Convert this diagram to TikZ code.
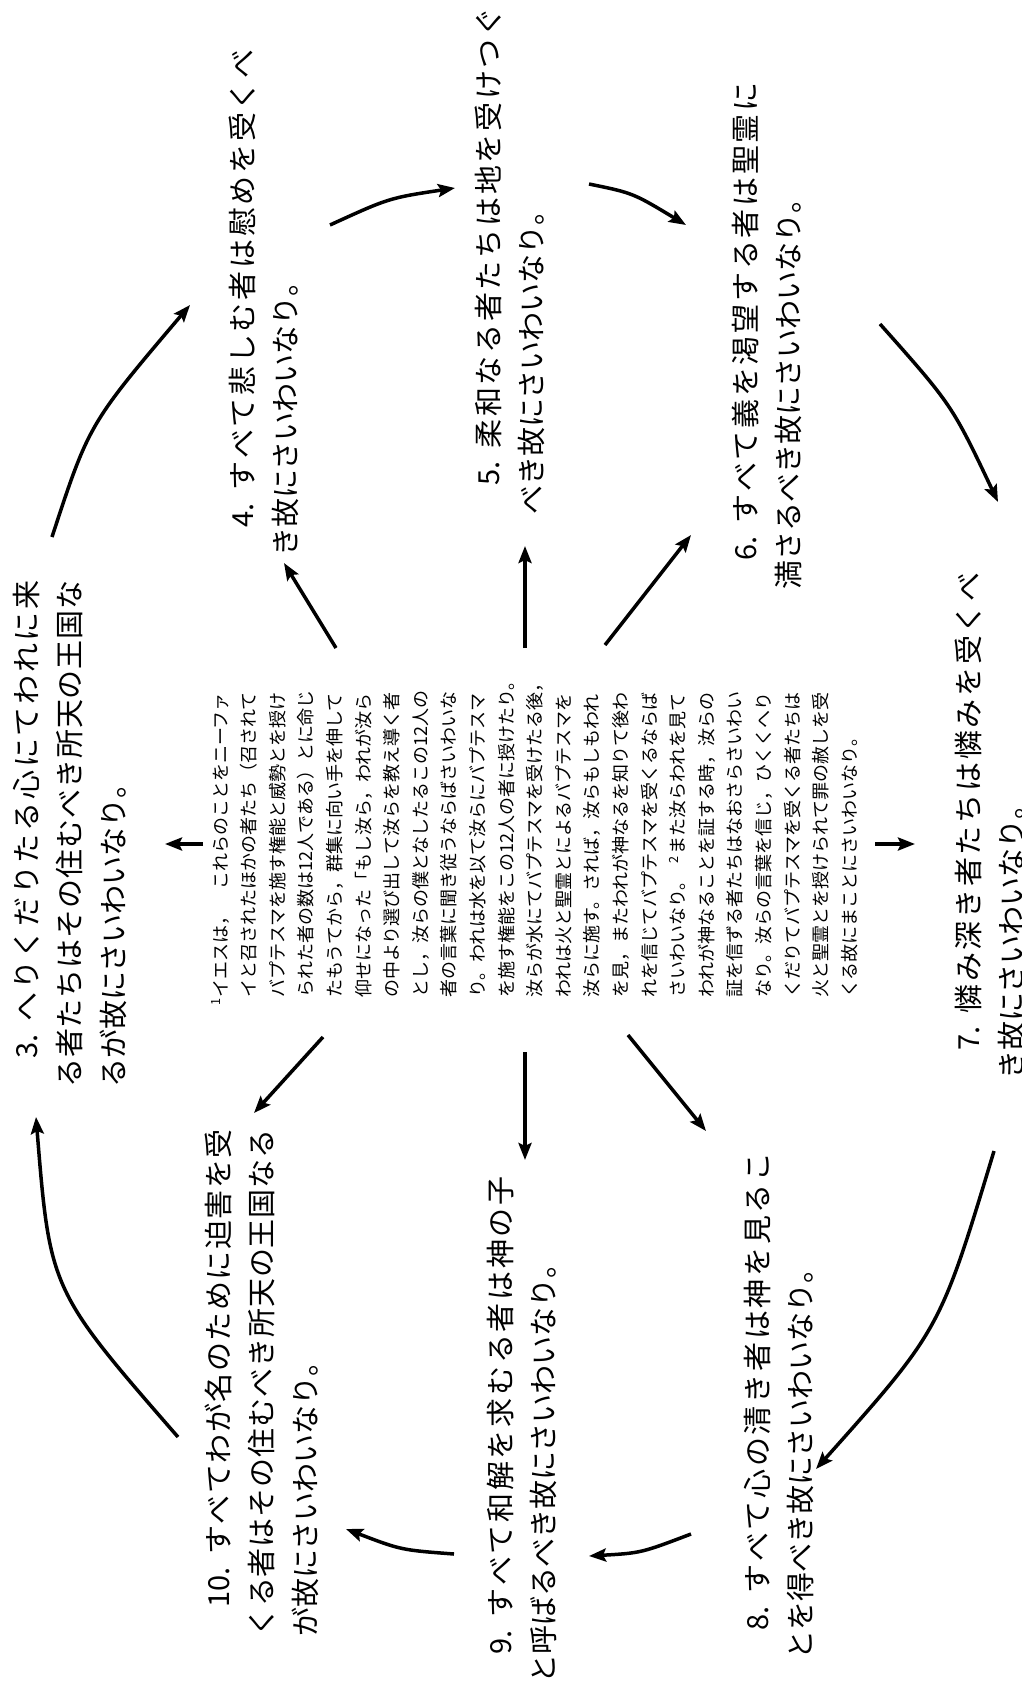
\documentclass[tikz,border=0pt]{standalone}
\usepackage{fontspec}
\setmainfont{Noto Sans CJK JP}
\usetikzlibrary{arrows.meta}
\def\JE{}
\def\JS#1{#1\JSnext}
\def\JSnext#1{\ifx#1\JE\else\hfil#1\expandafter\JSnext\fi}
\newcommand\Lone[2]{\makebox[17.5em][s]{\rule{0pt}{0.88em}\hspace*{1em}#1\hspace*{0.45em}\JS #2\JE}}
\newcommand\Lfull[1]{\makebox[17.5em][s]{\JS #1\JE}}
\tikzset{
  arr/.style={line width=3.5pt, -{Stealth[length=17pt,width=13pt,inset=3pt]}},
  item/.style={rotate=90, inner sep=0pt, align=left, anchor=north west, font=\fontsize{29}{43.5}\selectfont},
  body/.style={rotate=90, inner sep=0pt, align=left, anchor=north west, font=\fontsize{18}{28.6}\selectfont},
}
\begin{document}
\begin{tikzpicture}[x=1pt,y=1pt]
\useasboundingbox (0,0) rectangle (1021,-1694);
\fill[white] (0,0) rectangle (1021,-1694);

% central text
\node[body] (ctr) at (211,-998) {\rule{0pt}{0.88em}\llap{\textsuperscript{1}}イエスは，　これらのことをニーファ\\
イと召されたほかの者たち（召されて\\
バプテスマを施す権能と威勢とを授け\\
られた者の数は12人である）とに命じ\\
たもうてから，群集に向い手を伸して\\
仰せになった「もし汝ら，われが汝ら\\
の中より選び出して汝らを教え導く者\\
とし，汝らの僕となしたるこの12人の\\
者の言葉に聞き従うならばさいわいな\\
り。われは水を以て汝らにバプテスマ\\
を施す権能をこの12人の者に授けたり。\\
汝らが水にてバプテスマを受けたる後，\\
われは火と聖霊とによるバプテスマを\\
汝らに施す。されば，汝らもしもわれ\\
を見，またわれが神なるを知りて後わ\\
れを信じてバプテスマを受くるならば\\
さいわいなり。\makebox[1em][r]{\textsuperscript{2}\hspace{0.1em}}また汝らわれを見て\\
われが神なることを証する時，汝らの\\
証を信ずる者たちはなおさらさいわい\\
なり。汝らの言葉を信じ，ひくくへり\\
くだりてバプテスマを受くる者たちは\\
火と聖霊とを授けられて罪の赦しを受\\
くる故にまことにさいわいなり。};

% outer items
\node[item] (t3) at (26-14.5,-1088) {\Lone{3.}{へりくだりたる心にてわれに来}\\\Lfull{る者たちはその住むべき所天の王国な}\\るが故にさいわいなり。};
\node[item] (t4) at (242-14.5,-557) {\Lone{4.}{すべて悲しむ者は慰めを受くべ}\\き故にさいわいなり。};
\node[item] (t5) at (488-14.5,-515) {\Lone{5.}{柔和なる者たちは地を受けつぐ}\\べき故にさいわいなり。};
\node[item] (t6) at (745-14.5,-590) {\Lone{6.}{すべて義を渇望する者は聖霊に}\\満さるべき故にさいわいなり。};
\node[item] (t7) at (968-14.5,-1080) {\Lone{7.}{憐み深き者たちは憐みを受くべ}\\き故にさいわいなり。};
\node[item] (t8) at (757-14.5,-1660) {\Lone{8.}{すべて心の清き者は神を見るこ}\\とを得べき故にさいわいなり。};
\node[item] (t9) at (500-14.5,-1684) {\Lone{9.}{すべて和解を求むる者は神の子}\\と呼ばるべき故にさいわいなり。};
\node[item] (t10) at (218-14.5,-1637) {\Lone{10.}{すべてわが名のために迫害を受}\\\Lfull{くる者はその住むべき所天の王国なる}\\が故にさいわいなり。};

% outer arc end points
\coordinate (a3) at (52,-537);   \coordinate (a4) at (190,-305);
\coordinate (b4) at (330,-225);  \coordinate (b5) at (455,-188);
\coordinate (c5) at (589,-184);  \coordinate (c6) at (686,-225);
\coordinate (d6) at (880,-324);  \coordinate (d7) at (998,-502);
\coordinate (e7) at (994,-1151); \coordinate (e8) at (816,-1469);
\coordinate (f8) at (691,-1534); \coordinate (f9) at (589,-1556);
\coordinate (g9) at (454,-1554); \coordinate (g10) at (346,-1529);
\coordinate (h10) at (178,-1437);\coordinate (h3) at (36,-1117);

\draw[arr] (a3) .. controls (89,-424) .. (a4);
\draw[arr] (b4) .. controls (389,-198) .. (b5);
\draw[arr] (c5) .. controls (633,-193) .. (c6);
\draw[arr] (d6) .. controls (952,-405) .. (d7);
\draw[arr] (e7) .. controls (940,-1330) .. (e8);
\draw[arr] (f8) .. controls (641,-1553) .. (f9);
\draw[arr] (g9) .. controls (401,-1550) .. (g10);
\draw[arr] (h10) .. controls (50,-1290) .. (h3);

% centre arrows
\coordinate (s4) at (336,-648);  \coordinate (p4) at (284,-563);
\coordinate (s5) at (525,-648);  \coordinate (p5) at (525,-546);
\coordinate (s6) at (605,-645);  \coordinate (p6) at (691,-535);
\coordinate (s3) at (203,-844);  \coordinate (p3) at (165,-844);
\coordinate (s7) at (875,-844);  \coordinate (p7) at (915,-844);
\coordinate (s10) at (323,-1037);\coordinate (p10) at (254,-1113);
\coordinate (s9) at (525,-1052); \coordinate (p9) at (525,-1160);
\coordinate (s8) at (628,-1035); \coordinate (p8) at (706,-1131);
\foreach \i in {3,...,10} \draw[arr] (s\i) -- (p\i);
\end{tikzpicture}
\end{document}
